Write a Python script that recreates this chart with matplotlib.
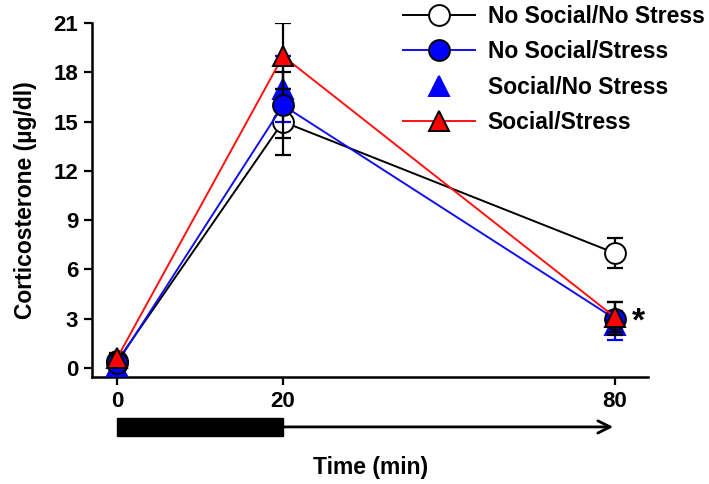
#!/usr/bin/env python3
"""Corticosterone time course for the four social/stress groups."""
import numpy as np
import matplotlib
matplotlib.use("Agg")
import matplotlib.pyplot as plt
from matplotlib.transforms import blended_transform_factory
from matplotlib.patches import Rectangle

plt.rcParams["font.family"] = ["Liberation Sans", "DejaVu Sans"]
plt.rcParams["font.weight"] = "bold"

TIMES = [0, 20, 80]
GROUPS = ["No Social/No Stress", "No Social/Stress", "Social/No Stress", "Social/Stress"]

cort_nsns = [0.4, 15.0, 7.0]
err_nsns = [0.3, 2.0, 0.9]
cort_nss = [0.3, 16.0, 3.0]
err_nss = [0.3, 2.0, 1.0]
cort_sns = [0.1, 17.0, 2.6]
err_sns = [0.3, 2.0, 0.9]
cort_ss = [0.6, 19.0, 3.1]
err_ss = [0.3, 2.0, 0.9]


# the time axis is stretched: 0-20 min takes half the width of 20-80 min
def fwd(t):
    t = np.asarray(t, dtype=float)
    return np.where(t <= 20, t, 20 + (t - 20) * 2 / 3)


def inv(u):
    u = np.asarray(u, dtype=float)
    return np.where(u <= 20, u, 20 + (u - 20) * 3 / 2)


fig = plt.figure(figsize=(7.09, 4.84), dpi=100)
ax = fig.add_axes([0.130, 0.221, 0.784, 0.731])
ax.set_xscale("function", functions=(fwd, inv))

styles = [
    (cort_nsns, err_nsns, dict(color="black", marker="o", mfc="white", mec="black"), "black", 2),
    (cort_nss, err_nss, dict(color="#1010e8", marker="o", mfc="#0000ff", mec="black"), "black", 4),
    (cort_sns, err_sns, dict(color="none", marker="^", mfc="#0000ff", mec="#0000ff"), "#0000ff", 3),
    (cort_ss, err_ss, dict(color="#ff1010", marker="^", mfc="#ff0000", mec="black"), "black", 5),
]
handles = []
for (y, e, kw, ecol, z), name in zip(styles, GROUPS):
    ax.errorbar(TIMES, y, yerr=e, fmt="none", ecolor=ecol, elinewidth=1.6,
                capsize=6, capthick=1.6, zorder=z)
    h, = ax.plot(TIMES, y, lw=1.4, ms=15, mew=1.4, zorder=z + 0.5, label=name, **kw)
    handles.append(h)

ax.set_xlim(-3.0, 86.0)
ax.set_ylim(-0.55, 21)
ax.set_xticks(TIMES)
ax.set_xticklabels([str(t) for t in TIMES])
ax.set_yticks(np.arange(0, 22, 3))
ax.tick_params(direction="out", length=6, width=1.6, labelsize=16, pad=4)
for lab in ax.get_xticklabels() + ax.get_yticklabels():
    lab.set_fontweight("bold")
for side in ["top", "right"]:
    ax.spines[side].set_visible(False)
for side in ["left", "bottom"]:
    ax.spines[side].set_linewidth(1.8)

ax.set_ylabel("Corticosterone (\u00b5g/dl)", fontsize=16.5, fontweight="bold", labelpad=12)
ax.set_xlabel("Time (min)", fontsize=16.5, fontweight="bold", labelpad=32)

ax.text(83, 2.8, "*", fontsize=24, fontweight="bold", ha="left", va="center")

# stress period bar and recovery arrow below the axis
tr = blended_transform_factory(ax.transData, ax.transAxes)
ax.add_patch(Rectangle((TIMES[0], -0.115), TIMES[1] - TIMES[0], -0.052,
                       transform=tr, color="black", clip_on=False))
ax.annotate("", xy=(TIMES[2] - 0.3, -0.141), xytext=(TIMES[1], -0.141),
            xycoords=tr, textcoords=tr, annotation_clip=False,
            arrowprops=dict(arrowstyle="->", lw=2, color="black", mutation_scale=22,
                            shrinkA=0, shrinkB=0))

fig.legend(handles=handles, loc="upper left", bbox_to_anchor=(0.568, 0.989),
           frameon=False, fontsize=16.5, handlelength=3.15, labelspacing=0.53,
           handletextpad=0.55, borderaxespad=0, borderpad=0)

fig.savefig("out.png", dpi=100)
